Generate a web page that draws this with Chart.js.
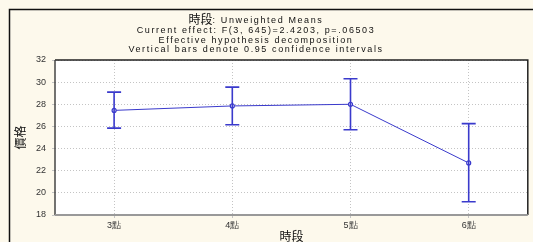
<!DOCTYPE html>
<html>
<head>
<meta charset="utf-8">
<script src="https://cdn.jsdelivr.net/npm/chart.js@4"></script>
<style>
  html, body { margin: 0; padding: 0; background: #fdf9ec; }
  #wrap { width: 533px; height: 242px; position: relative; }
</style>
</head>
<body>
<div id="wrap"><canvas id="myChart" width="533" height="242"></canvas></div>
<script>
// data
const periods = ['3點', '4點', '5點', '6點'];
const means = [27.45, 27.85, 28.0, 22.7];
const lowerCI = [25.85, 26.15, 25.7, 19.2];
const upperCI = [29.1, 29.55, 30.3, 26.25];
const yTicks = [18, 20, 22, 24, 26, 28, 30, 32];

const blue = '#3a3acc';
const cjk = '"Noto Sans CJK TC", "Noto Sans CJK SC", sans-serif';
const arial = '"Liberation Sans", Arial, sans-serif';

// cream page, black frame, white plot area
const backdrop = {
  id: 'backdrop',
  beforeDraw(chart) {
    const { ctx, chartArea: a } = chart;
    ctx.save();
    ctx.fillStyle = '#fdf9ec';
    ctx.fillRect(0, 0, chart.width, chart.height);
    ctx.strokeStyle = '#111';
    ctx.lineWidth = 1.5;
    ctx.beginPath();
    ctx.moveTo(9.5, chart.height);
    ctx.lineTo(9.5, 9.5);
    ctx.lineTo(chart.width, 9.5);
    ctx.stroke();
    ctx.fillStyle = '#ffffff';
    ctx.fillRect(a.left, a.top, a.right - a.left, a.bottom - a.top);
    ctx.restore();
  },
  afterDraw(chart) {
    const { ctx, chartArea: a } = chart;
    ctx.save();
    ctx.lineWidth = 1.5;
    ctx.strokeStyle = '#222';
    ctx.beginPath();
    ctx.moveTo(a.left, a.top);
    ctx.lineTo(a.right, a.top);
    ctx.lineTo(a.right, a.bottom);
    ctx.stroke();
    ctx.strokeStyle = '#444';
    ctx.beginPath();
    ctx.moveTo(a.left, a.top);
    ctx.lineTo(a.left, a.bottom);
    ctx.stroke();
    ctx.strokeStyle = '#999';
    ctx.lineWidth = 2;
    ctx.beginPath();
    ctx.moveTo(a.left, a.bottom);
    ctx.lineTo(a.right, a.bottom);
    ctx.stroke();
    ctx.restore();
  }
};

// header text block
const header = {
  id: 'header',
  afterDraw(chart) {
    const ctx = chart.ctx;
    const cx = 256;
    const latin = '9px ' + arial;
    const spacing = '1.6px';
    ctx.save();
    ctx.fillStyle = '#111';
    ctx.textBaseline = 'middle';
    // first line: big CJK part + small latin part
    const big = '時段';
    const small = ': Unweighted Means';
    ctx.font = '12px ' + cjk;
    const w1 = ctx.measureText(big).width;
    ctx.font = latin;
    ctx.letterSpacing = spacing;
    const w2 = ctx.measureText(small).width;
    let x = cx - (w1 + w2) / 2;
    ctx.textAlign = 'left';
    ctx.letterSpacing = '0px';
    ctx.font = '12px ' + cjk;
    ctx.fillText(big, x, 19);
    ctx.letterSpacing = spacing;
    ctx.font = latin;
    ctx.fillText(small, x + w1, 21);
    ctx.textAlign = 'center';
    ctx.fillText('Current effect: F(3, 645)=2.4203, p=.06503', cx, 31);
    ctx.fillText('Effective hypothesis decomposition', cx, 41);
    ctx.fillText('Vertical bars denote 0.95 confidence intervals', cx, 50);
    ctx.restore();
  }
};

// confidence interval whiskers
const whiskers = {
  id: 'whiskers',
  afterDatasetsDraw(chart) {
    const { ctx, scales: { x, y } } = chart;
    ctx.save();
    ctx.strokeStyle = blue;
    ctx.lineWidth = 1.6;
    periods.forEach((p, i) => {
      const px = x.getPixelForValue(i);
      const top = y.getPixelForValue(upperCI[i]);
      const bot = y.getPixelForValue(lowerCI[i]);
      ctx.beginPath();
      ctx.moveTo(px, top);
      ctx.lineTo(px, bot);
      ctx.moveTo(px - 7, top);
      ctx.lineTo(px + 7, top);
      ctx.moveTo(px - 7, bot);
      ctx.lineTo(px + 7, bot);
      ctx.stroke();
    });
    ctx.restore();
  }
};

const ctx = document.getElementById('myChart');

const config = {
  type: 'line',
  data: {
    labels: periods,
    datasets: [{
      label: '價格',
      data: means,
      borderColor: blue,
      borderWidth: 1,
      pointRadius: 2,
      pointBorderWidth: 1.2,
      pointBackgroundColor: '#fff',
      pointBorderColor: blue,
      tension: 0
    }]
  },
  options: {
    responsive: false,
    animation: false,
    layout: { padding: { top: 60, right: 5, left: 0, bottom: 0 } },
    plugins: { legend: { display: false }, tooltip: { enabled: false } },
    scales: {
      x: {
        offset: true,
        grid: { offset: false, color: '#c4c4c4', tickLength: 3 },
        border: { display: false, dash: [1, 2] },
        ticks: { color: '#333', font: { family: arial, size: 9 }, padding: 2 },
        title: { display: true, text: '時段', color: '#111', font: { family: cjk, size: 12 }, padding: { top: 0, bottom: -2 } },
        afterFit(scale) { scale.height = 27; }
      },
      y: {
        min: 18,
        max: 32,
        afterBuildTicks(scale) { scale.ticks = yTicks.map(v => ({ value: v })); },
        grid: { color: '#c4c4c4', tickLength: 3 },
        border: { display: false, dash: [1, 2] },
        ticks: { color: '#333', font: { family: arial, size: 9 }, padding: 6 },
        title: { display: true, text: '價格', color: '#111', font: { family: cjk, size: 12 }, padding: { top: 13 } },
        afterFit(scale) { scale.width = 55; }
      }
    }
  },
  plugins: [backdrop, whiskers, header]
};

new Chart(ctx, config);
</script>
</body>
</html>
